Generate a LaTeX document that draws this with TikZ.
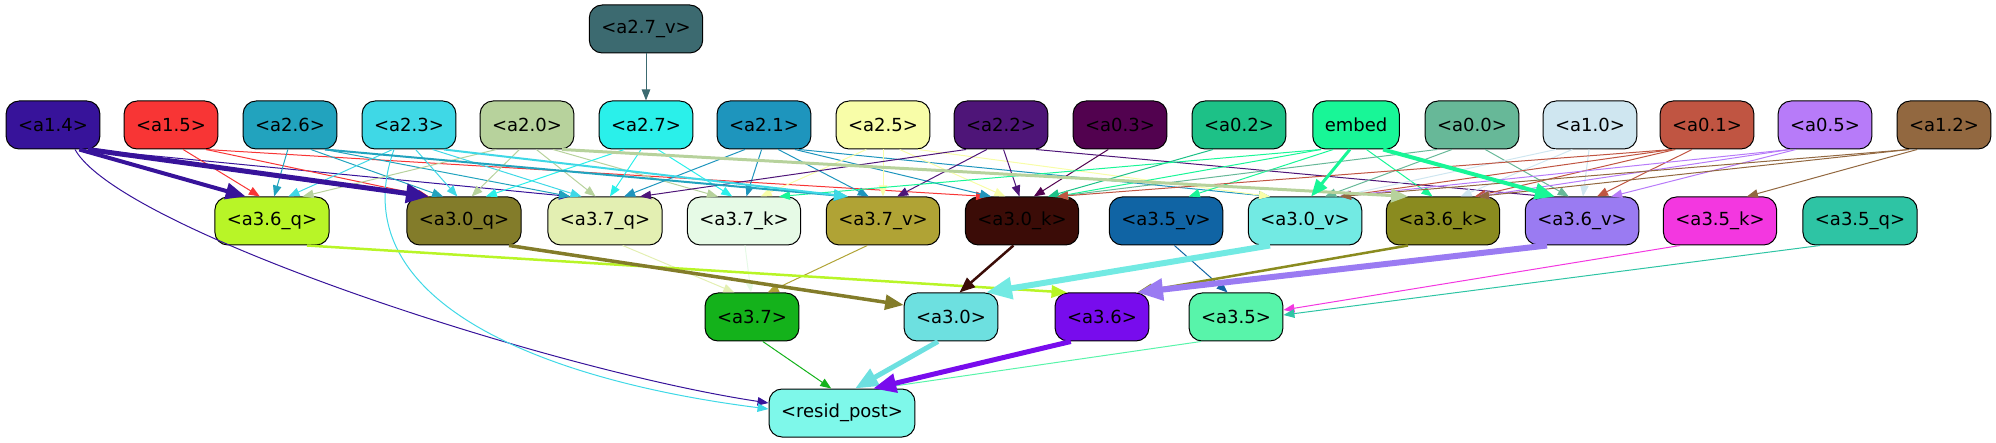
\documentclass[tikz,border=0pt]{standalone}
\usepackage{fontspec}
\setmainfont{DejaVu Sans}
\usetikzlibrary{arrows.meta,calc}

\definecolor{ca27v}{HTML}{3C6A70}
\definecolor{ca14}{HTML}{37139A}
\definecolor{ca15}{HTML}{F83535}
\definecolor{ca26}{HTML}{22A3BE}
\definecolor{ca23}{HTML}{3FD8E6}
\definecolor{ca20}{HTML}{B7D29C}
\definecolor{ca27}{HTML}{2AF0EA}
\definecolor{ca21}{HTML}{1E95BD}
\definecolor{ca25}{HTML}{F8FDA8}
\definecolor{ca22}{HTML}{4E1578}
\definecolor{ca03}{HTML}{52024F}
\definecolor{ca02}{HTML}{1DC187}
\definecolor{cembed}{HTML}{18F697}
\definecolor{ca00}{HTML}{67B898}
\definecolor{ca10}{HTML}{CFE6F0}
\definecolor{ca01}{HTML}{C05542}
\definecolor{ca05}{HTML}{B77BF9}
\definecolor{ca12}{HTML}{926840}
\definecolor{ca36q}{HTML}{B8F527}
\definecolor{ca30q}{HTML}{837C2A}
\definecolor{ca37q}{HTML}{E3EFB2}
\definecolor{ca37k}{HTML}{E6FAE6}
\definecolor{ca37v}{HTML}{B0A335}
\definecolor{ca30k}{HTML}{3B0C07}
\definecolor{ca35v}{HTML}{1064A4}
\definecolor{ca30v}{HTML}{72EAE3}
\definecolor{ca36k}{HTML}{8A8B1F}
\definecolor{ca36v}{HTML}{9A7BF2}
\definecolor{ca35k}{HTML}{F337E0}
\definecolor{ca35q}{HTML}{2EC4A4}
\definecolor{ca37}{HTML}{14B21B}
\definecolor{ca30}{HTML}{6DE0E0}
\definecolor{ca36}{HTML}{780CED}
\definecolor{ca35}{HTML}{58F4AA}
\definecolor{cresid}{HTML}{7EF8EA}

% edge from bottom of #2 to top of #3, ends pulled toward each other
\newcommand{\link}[3][1]{%
  \draw[wire, line width=#1pt, draw=c#2]
    let \p1=(#2.center), \p2=(#3.center),
        \n1={max(-35,min(35,0.12*(\x2-\x1)))},
        \n2={max(-35,min(35,0.12*(\x1-\x2)))} in
    ([xshift=\n1]#2.south) -- ([xshift=\n2]#3.north);}

\begin{document}
\begin{tikzpicture}[
  x=1pt, y=1pt,
  >={Triangle[length=8pt 3, width=6pt 2.5]},
  every node/.style={font=\fontsize{18}{21}\selectfont},
  box/.style={draw=black, line width=1pt, rounded corners=13pt,
              minimum height=48pt, inner xsep=12pt, inner ysep=0pt},
  wire/.style={->}
]
\useasboundingbox (0,0) rectangle (1996,-443);

%% ── input ────────────────────────────────────────────────────
\node[box, fill=ca27v] (a27v) at (646,-29) {<a2.7\_v>};

%% ── source features ──────────────────────────────────────────
\node[box, fill=ca14]   (a14)   at (53,-125)   {<a1.4>};
\node[box, fill=ca15]   (a15)   at (171,-125)  {<a1.5>};
\node[box, fill=ca26]   (a26)   at (290,-125)  {<a2.6>};
\node[box, fill=ca23]   (a23)   at (409,-125)  {<a2.3>};
\node[box, fill=ca20]   (a20)   at (527,-125)  {<a2.0>};
\node[box, fill=ca27]   (a27)   at (646,-125)  {<a2.7>};
\node[box, fill=ca21]   (a21)   at (764,-125)  {<a2.1>};
\node[box, fill=ca25]   (a25)   at (883,-125)  {<a2.5>};
\node[box, fill=ca22]   (a22)   at (1001,-125) {<a2.2>};
\node[box, fill=ca03]   (a03)   at (1120,-125) {<a0.3>};
\node[box, fill=ca02]   (a02)   at (1239,-125) {<a0.2>};
\node[box, fill=cembed] (embed) at (1356,-125) {embed};
\node[box, fill=ca00]   (a00)   at (1472,-125) {<a0.0>};
\node[box, fill=ca10]   (a10)   at (1590,-125) {<a1.0>};
\node[box, fill=ca01]   (a01)   at (1707,-125) {<a0.1>};
\node[box, fill=ca05]   (a05)   at (1825,-125) {<a0.5>};
\node[box, fill=ca12]   (a12)   at (1944,-125) {<a1.2>};

%% ── q / k / v row ────────────────────────────────────────────
\node[box, fill=ca36q] (a36q) at (272,-221)  {<a3.6\_q>};
\node[box, fill=ca30q] (a30q) at (464,-221)  {<a3.0\_q>};
\node[box, fill=ca37q] (a37q) at (605,-221)  {<a3.7\_q>};
\node[box, fill=ca37k] (a37k) at (744,-221)  {<a3.7\_k>};
\node[box, fill=ca37v] (a37v) at (883,-221)  {<a3.7\_v>};
\node[box, fill=ca30k] (a30k) at (1022,-221) {<a3.0\_k>};
\node[box, fill=ca35v] (a35v) at (1166,-221) {<a3.5\_v>};
\node[box, fill=ca30v] (a30v) at (1305,-221) {<a3.0\_v>};
\node[box, fill=ca36k] (a36k) at (1443,-221) {<a3.6\_k>};
\node[box, fill=ca36v] (a36v) at (1582,-221) {<a3.6\_v>};
\node[box, fill=ca35k] (a35k) at (1720,-221) {<a3.5\_k>};
\node[box, fill=ca35q] (a35q) at (1860,-221) {<a3.5\_q>};

%% ── heads ────────────────────────────────────────────────────
\node[box, fill=ca37] (a37) at (752,-317)  {<a3.7>};
\node[box, fill=ca30] (a30) at (951,-317)  {<a3.0>};
\node[box, fill=ca36] (a36) at (1102,-317) {<a3.6>};
\node[box, fill=ca35] (a35) at (1236,-317) {<a3.5>};

\node[box, fill=cresid] (resid) at (842,-413) {<resid\_post>};

%% ── thin edges ───────────────────────────────────────────────
\draw[wire, line width=1pt, draw=ca27v] (a27v) -- (a27);

\foreach \s/\t in {a14/a37q,
  a15/a36q, a15/a30q, a15/a30k,
  a26/a36q, a26/a30q, a26/a37q,
  a23/a36q, a23/a30q, a23/a37q,
  a20/a36q, a20/a30q, a20/a37q, a20/a37k,
  a27/a30q, a27/a37q, a27/a37k,
  a21/a37q, a21/a37k, a21/a37v, a21/a30k, a21/a30v,
  a25/a37k, a25/a37v, a25/a30k, a25/a30v,
  a22/a37q, a22/a37v, a22/a30k, a22/a36v,
  a03/a30k, a02/a30k,
  embed/a37k, embed/a30k, embed/a35v, embed/a36k,
  a00/a30k, a00/a30v, a00/a36v,
  a10/a30v, a10/a36k, a10/a36v,
  a01/a30k, a01/a30v, a01/a36k, a01/a36v,
  a05/a30v, a05/a36k, a05/a36v,
  a12/a30v, a12/a36k, a12/a35k,
  a37q/a37, a37k/a37, a37v/a37, a35v/a35,
  a37/resid, a35/resid}
  {\link{\s}{\t}}

\draw[wire, line width=1pt, draw=ca35k]
  ([xshift=-40]a35k.south) -- ([yshift=7]a35.east);
\draw[wire, line width=1pt, draw=ca35q]
  ([xshift=-40]a35q.south) -- ([yshift=2]a35.east);

\draw[wire, line width=1pt, draw=ca14]
  ([xshift=22]a14.south) .. controls (120,-230) and (550,-370) ..
  ([yshift=10]resid.west);
\draw[wire, line width=1pt, draw=ca23]
  ([xshift=-15]a23.south) .. controls (340,-300) and (540,-380) ..
  ([yshift=4]resid.west);

%% ── heavy edges ──────────────────────────────────────────────
\link[2]{a26}{a37v}
\link[2]{a23}{a37v}
\link[3]{a20}{a36k}
\link[3]{embed}{a30v}
\link[4]{embed}{a36v}
\link[4]{a14}{a36q}
\link[5]{a14}{a30q}

\link[2.5]{a36q}{a36}
\draw[wire, line width=3.5pt, draw=ca30q]
  ([xshift=45]a30q.south) -- ([yshift=12]a30.west);
\link[2.5]{a30k}{a30}
\link[6]{a30v}{a30}
\link[2.5]{a36k}{a36}
\link[6]{a36v}{a36}

\link[5]{a30}{resid}
\link[5]{a36}{resid}

\end{tikzpicture}
\end{document}
